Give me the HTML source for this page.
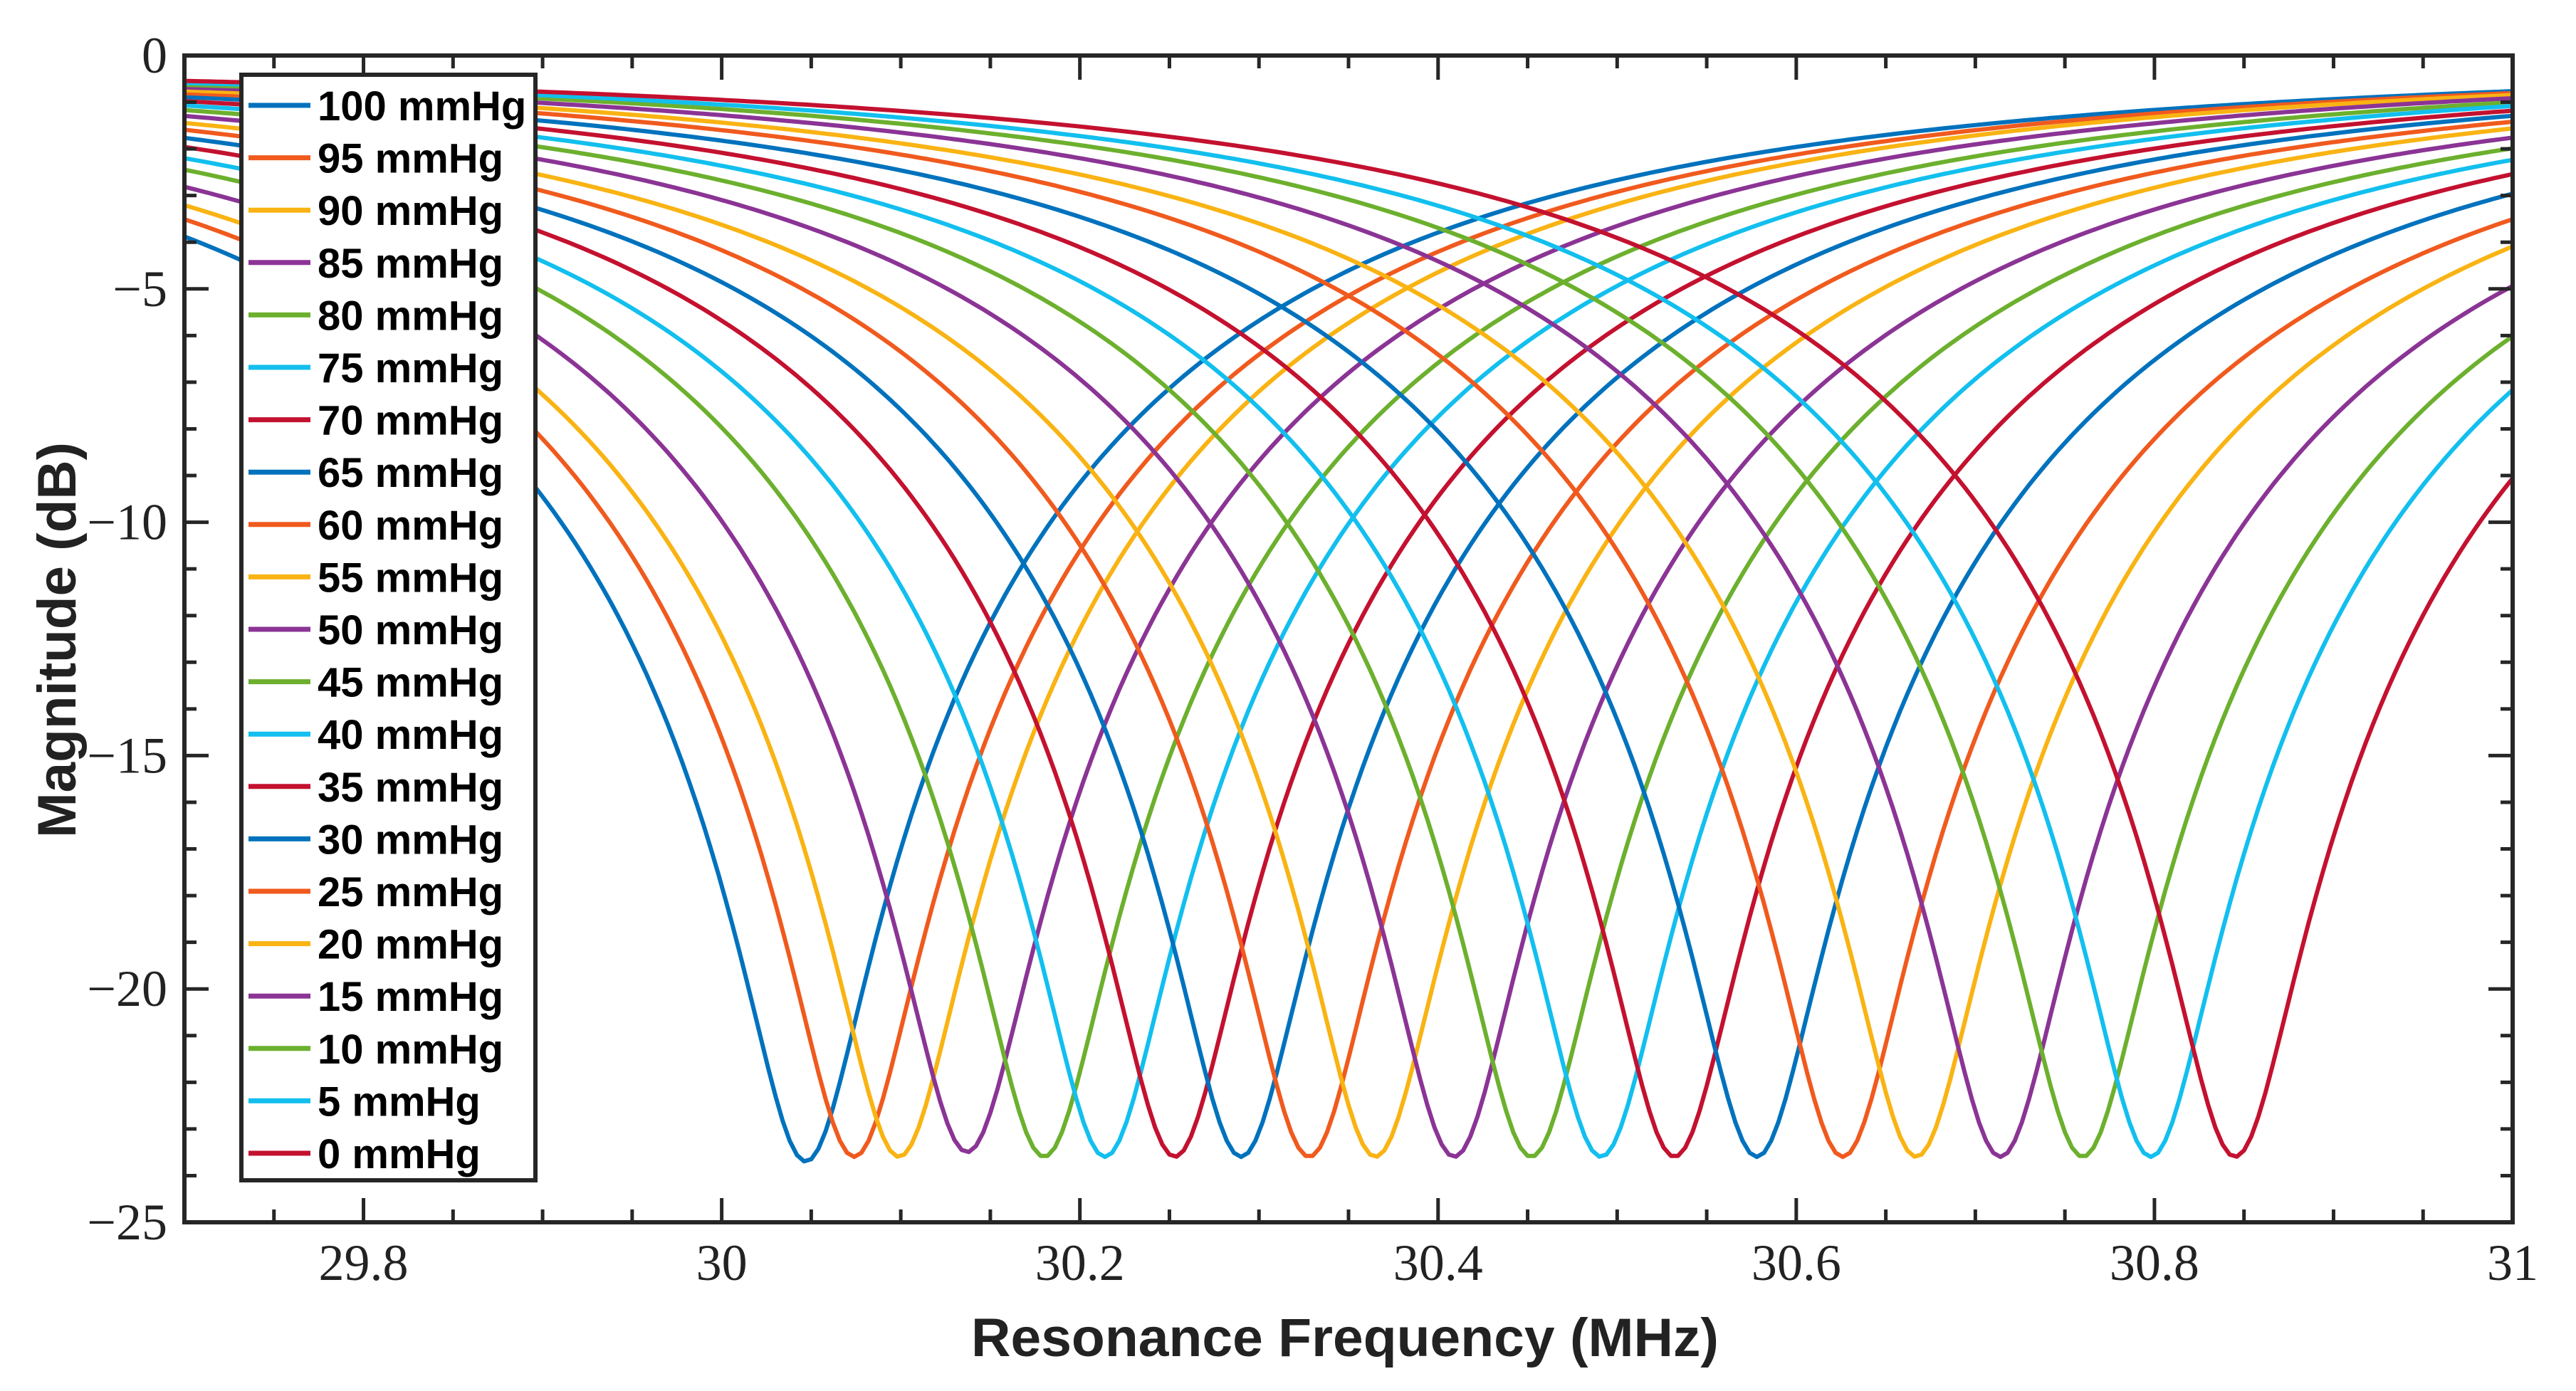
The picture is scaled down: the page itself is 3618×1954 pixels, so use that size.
<!DOCTYPE html>
<html><head><meta charset="utf-8"><style>
html,body{margin:0;padding:0;background:#fff;}
svg{display:block;}
</style></head><body>
<svg id="chart" xmlns="http://www.w3.org/2000/svg" width="3618" height="1954" viewBox="0 0 3618 1954">
<defs><clipPath id="plotclip"><rect x="259" y="78" width="3270" height="1639"/></clipPath></defs>
<rect x="0" y="0" width="3618" height="1954" fill="#fff"/>
<g id="curves" clip-path="url(#plotclip)"></g>
<g id="axes"></g>
<g id="legend"></g>
<text x="1889" y="1905" text-anchor="middle" font-family="Liberation Sans, sans-serif" font-weight="bold" font-size="76" fill="#222" textLength="1050" lengthAdjust="spacingAndGlyphs">Resonance Frequency (MHz)</text>
<text x="0" y="0" transform="translate(106,899) rotate(-90)" text-anchor="middle" font-family="Liberation Sans, sans-serif" font-weight="bold" font-size="76" fill="#222" textLength="556" lengthAdjust="spacingAndGlyphs">Magnitude (dB)</text>
</svg>
<script>
const seriesLabels = ["100 mmHg","95 mmHg","90 mmHg","85 mmHg","80 mmHg","75 mmHg","70 mmHg","65 mmHg","60 mmHg","55 mmHg","50 mmHg","45 mmHg","40 mmHg","35 mmHg","30 mmHg","25 mmHg","20 mmHg","15 mmHg","10 mmHg","5 mmHg","0 mmHg"];
const resonanceMHz = [30.047,30.074,30.099,30.137,30.180,30.214,30.253,30.290,30.328,30.365,30.409,30.452,30.491,30.532,30.578,30.626,30.667,30.714,30.760,30.798,30.845];
const minDepthDb = [-23.7,-23.6,-23.6,-23.5,-23.6,-23.6,-23.6,-23.6,-23.6,-23.6,-23.6,-23.6,-23.6,-23.6,-23.6,-23.6,-23.6,-23.6,-23.6,-23.6,-23.6];
const bandwidthMHz = [0.419,0.419,0.419,0.419,0.419,0.419,0.419,0.419,0.419,0.419,0.419,0.419,0.419,0.419,0.419,0.419,0.419,0.419,0.419,0.419,0.419];
const xTickLabels = ["29.8","30","30.2","30.4","30.6","30.8","31"];
const xTickValues = [29.8,30,30.2,30.4,30.6,30.8,31];
const yTickLabels = ["0","\u22125","\u221210","\u221215","\u221220","\u221225"];
const yTickValues = [0,-5,-10,-15,-20,-25];

const palette = ["#0072BD","#F05A1E","#F9B313","#8B3495","#6CB02E","#12BFEE","#C3112F"];
const NS = "http://www.w3.org/2000/svg";
const X0=259, X1=3529, Y0=78, Y1=1717, XMIN=29.7, XMAX=31, YMIN=-25, YMAX=0;
function xs(v){return X0+(v-XMIN)/(XMAX-XMIN)*(X1-X0);}
function ys(v){return Y0+(YMAX-v)/(YMAX-YMIN)*(Y1-Y0);}
function mk(tag,attrs,parent){const e=document.createElementNS(NS,tag);for(const k in attrs)e.setAttribute(k,attrs[k]);parent.appendChild(e);return e;}

const curves=document.getElementById('curves');
for(let i=0;i<seriesLabels.length;i++){
  const r=Math.pow(10,minDepthDb[i]/10);
  const pts=[];
  for(let f=XMIN-0.01;f<=XMAX+0.011;f+=0.004){
    const d=(f-resonanceMHz[i])/bandwidthMHz[i];
    const x2=d*d;
    const db=10*Math.log10((r+x2)/(1+x2));
    pts.push(xs(f).toFixed(1)+","+ys(db).toFixed(1));
  }
  const pl=mk('polyline',{points:pts.join(' '),fill:'none',stroke:palette[i%7],'stroke-width':6,'stroke-linejoin':'round'},curves);
  
  
}

const axes=document.getElementById('axes');
const ax='#262626';
for(let k=0;k<=26;k++){
  const v=XMIN+k*0.05; const x=xs(v);
  const major=Math.abs((v*10)%2)<0.01||Math.abs((v*10)%2-2)<0.01;
  const L=major?34:18;
  mk('line',{x1:x,y1:Y1,x2:x,y2:Y1-L,stroke:ax,'stroke-width':5},axes);
  mk('line',{x1:x,y1:Y0,x2:x,y2:Y0+L,stroke:ax,'stroke-width':5},axes);
}
for(let v=0;v>=-25;v--){
  const y=ys(v); const L=(v%5===0)?34:17;
  mk('line',{x1:X0,y1:y,x2:X0+L,y2:y,stroke:ax,'stroke-width':5},axes);
  mk('line',{x1:X1,y1:y,x2:X1-L,y2:y,stroke:ax,'stroke-width':5},axes);
}
mk('rect',{x:X0,y:Y0,width:X1-X0,height:Y1-Y0,fill:'none',stroke:ax,'stroke-width':6},axes);
for(let i=0;i<xTickLabels.length;i++){
  const t=mk('text',{x:xs(xTickValues[i]),y:1798,'text-anchor':'middle','font-family':'Liberation Serif, serif','font-size':72,fill:'#222'},axes);
  t.textContent=xTickLabels[i];
  
  
}
for(let i=0;i<yTickLabels.length;i++){
  const t=mk('text',{x:235,y:ys(yTickValues[i])+24,'text-anchor':'end','font-family':'Liberation Serif, serif','font-size':72,fill:'#222'},axes);
  t.textContent=yTickLabels[i];
  
  
}

const leg=document.getElementById('legend');
const box=mk('rect',{x:339,y:105,width:413,height:1553,fill:'#fff',stroke:ax,'stroke-width':6},leg);


for(let i=0;i<seriesLabels.length;i++){
  const cy=148+i*73.6;
  const ln=mk('line',{x1:349,y1:cy,x2:436,y2:cy,stroke:palette[i%7],'stroke-width':7},leg);
  
  
  const t=mk('text',{x:446,y:cy+21,'font-family':'Liberation Sans, sans-serif','font-weight':'bold','font-size':58,fill:'#000'},leg);
  t.textContent=seriesLabels[i];
  
  
}
</script>
</body></html>
